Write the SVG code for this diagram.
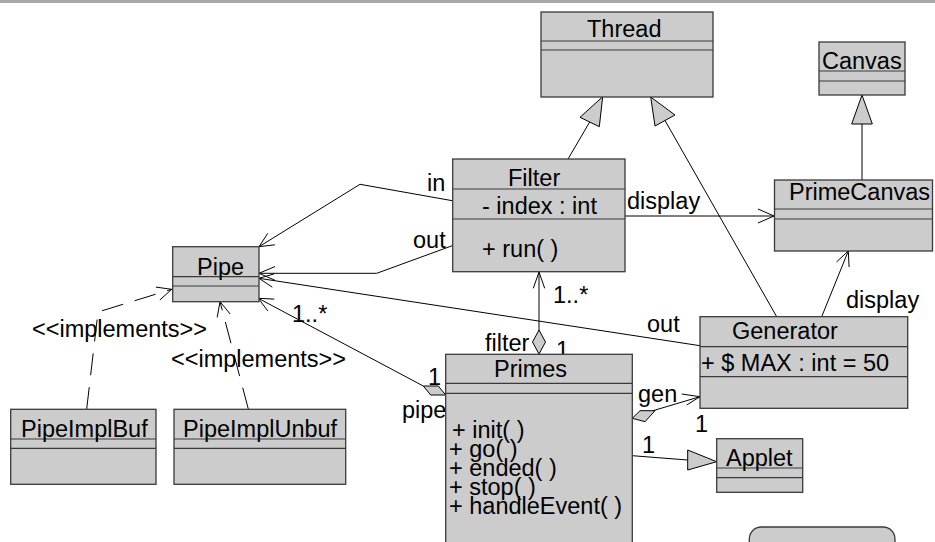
<svg xmlns="http://www.w3.org/2000/svg" width="935" height="542" viewBox="0 0 935 542">
<style>
text{font-family:"Liberation Sans",Arial,sans-serif;font-size:23.5px;fill:#000}
.box{fill:#cccccc;stroke:#3a3a3a;stroke-width:1.3}
.sep{stroke:#3a3a3a;stroke-width:1.2}
.c{fill:none;stroke:#000;stroke-width:1}
.tri{fill:#cccccc;stroke:#000;stroke-width:1}
.dash{fill:none;stroke:#000;stroke-width:1;stroke-dasharray:22,12}
</style>
<rect x="0" y="0" width="935" height="3" fill="#a8a8a8"/>
<g id="connectors">
  <!-- Filter -> Thread -->
  <line class="c" x1="568" y1="159" x2="589.7" y2="122"/>
  <polygon class="tri" points="602.7,96.7 580,117.3 599.3,126.7"/>
  <!-- Generator -> Thread -->
  <line class="c" x1="776.7" y1="316.7" x2="665" y2="120.5"/>
  <polygon class="tri" points="650.7,97 655,126 675,115"/>
  <!-- PrimeCanvas -> Canvas -->
  <line class="c" x1="862" y1="180" x2="862" y2="124"/>
  <polygon class="tri" points="862,95 851.7,124 872.3,124"/>
  <!-- Filter -> PrimeCanvas display -->
  <line class="c" x1="625" y1="216" x2="774" y2="216"/>
  <polyline class="c" points="758,209 774,216 758,223"/>
  <text x="627" y="209">display</text>
  <!-- Generator -> PrimeCanvas display -->
  <line class="c" x1="821.7" y1="316.7" x2="848.3" y2="251"/>
  <polyline class="c" points="836.6,261.9 848.3,251 849.1,267"/>
  <text x="846" y="308">display</text>
  <!-- Filter -> Pipe in -->
  <polyline class="c" points="452.3,200.7 360,184.3 259,246.7"/>
  <polyline class="c" points="274.9,244.8 259,246.7 267.8,233.3"/>
  <text x="427" y="191">in</text>
  <!-- Filter -> Pipe out -->
  <polyline class="c" points="452.3,245.7 376.7,273.3 259,273.3"/>
  <polyline class="c" points="275,266.5 259,273.3 275,280.3"/>
  <text x="413" y="248">out</text>
  <!-- Generator -> Pipe out -->
  <line class="c" x1="700" y1="345.7" x2="259" y2="278.3"/>
  <polyline class="c" points="272.3,287.2 259,278.3 274.4,273.8"/>
  <text x="647" y="332">out</text>
  <!-- Primes -> Pipe aggregation -->
  <line class="c" x1="423.3" y1="386" x2="258.3" y2="298.3"/>
  <polyline class="c" points="267.9,311.1 258.3,298.3 274.3,299.1"/>
  <polygon class="tri" points="423.3,386 438.3,386 445.7,395 430.7,395"/>
  <text x="292" y="322">1..*</text>
  <text x="428" y="385">1</text>
  <text x="402" y="418">pipe</text>
  <!-- Primes -> Filter aggregation -->
  <line class="c" x1="539" y1="272" x2="539" y2="330"/>
  <polyline class="c" points="533.3,288.3 539,272 544.7,288.3"/>
  <polygon class="tri" points="539,330 545.5,342 539,354 532.5,342"/>
  <text x="553" y="303">1..*</text>
  <text x="485" y="351">filter</text>
  <text x="556" y="358">1</text>
  <!-- Primes -> Generator aggregation -->
  <line class="c" x1="653" y1="410.7" x2="700" y2="396.7"/>
  <polyline class="c" points="681.7,394 700,396.7 686.7,405"/>
  <polygon class="tri" points="632.3,418.3 640,410.7 655,410.7 645,421.7"/>
  <text x="638" y="402">gen</text>
  <text x="695" y="432">1</text>
  <!-- Primes -> Applet -->
  <line class="c" x1="632.3" y1="455.7" x2="687.7" y2="460"/>
  <polygon class="tri" points="716.7,461.7 687.7,450 687.7,470"/>
  <text x="642" y="453">1</text>
  <!-- PipeImplBuf -> Pipe -->
  <polyline class="dash" points="86.7,409 98,312 171.7,289.3"/>
  <polyline class="c" points="155.9,287.1 171.7,289.3 159.8,300"/>
  <text x="32" y="337">&lt;&lt;implements&gt;&gt;</text>
  <!-- PipeImplUnbuf -> Pipe -->
  <line class="dash" x1="248.3" y1="409" x2="220" y2="301.7"/>
  <polyline class="c" points="217.2,317.4 220,301.7 230.2,314"/>
  <text x="171" y="367">&lt;&lt;implements&gt;&gt;</text>
</g>
<g id="Thread">
  <rect class="box" x="541" y="12" width="172" height="85"/>
  <line class="sep" x1="541" y1="41" x2="713" y2="41"/>
  <line class="sep" x1="541" y1="50" x2="713" y2="50"/>
  <text x="587" y="37">Thread</text>
</g>
<g id="Canvas">
  <rect class="box" x="819" y="42" width="86" height="53"/>
  <line class="sep" x1="819" y1="71" x2="905" y2="71"/>
  <line class="sep" x1="819" y1="81" x2="905" y2="81"/>
  <text x="822" y="69">Canvas</text>
</g>
<g id="PrimeCanvas">
  <rect class="box" x="774.5" y="180" width="158" height="71"/>
  <line class="sep" x1="774.5" y1="209" x2="932.5" y2="209"/>
  <line class="sep" x1="774.5" y1="219" x2="932.5" y2="219"/>
  <text x="789" y="200">PrimeCanvas</text>
</g>
<g id="Filter">
  <rect class="box" x="452.7" y="159" width="172.3" height="112.7"/>
  <line class="sep" x1="452.7" y1="189" x2="625" y2="189"/>
  <line class="sep" x1="452.7" y1="219" x2="625" y2="219"/>
  <text x="508" y="186">Filter</text>
  <text x="482" y="214">- index : int</text>
  <text x="482" y="257">+ run( )</text>
</g>
<g id="Pipe">
  <rect class="box" x="172.7" y="246.7" width="86.3" height="55"/>
  <line class="sep" x1="172.7" y1="276.7" x2="259" y2="276.7"/>
  <line class="sep" x1="172.7" y1="286" x2="259" y2="286"/>
  <text x="197" y="275">Pipe</text>
</g>
<g id="Generator">
  <rect class="box" x="700" y="316.7" width="207.7" height="91.6"/>
  <line class="sep" x1="700" y1="346.7" x2="907.7" y2="346.7"/>
  <line class="sep" x1="700" y1="376.7" x2="907.7" y2="376.7"/>
  <text x="732" y="339">Generator</text>
  <text x="701" y="371">+ $ MAX : int = 50</text>
</g>
<g id="Primes">
  <rect class="box" x="445.7" y="354.3" width="186.6" height="200"/>
  <line class="sep" x1="445.7" y1="383.3" x2="632.3" y2="383.3"/>
  <line class="sep" x1="445.7" y1="393.3" x2="632.3" y2="393.3"/>
  <text x="494" y="377">Primes</text>
  <text x="452" y="438">+ init( )</text>
  <text x="449" y="457">+ go( )</text>
  <text x="449" y="476">+ ended( )</text>
  <text x="449" y="495">+ stop( )</text>
  <text x="449" y="514">+ handleEvent( )</text>
</g>
<g id="Applet">
  <rect class="box" x="716.7" y="438.7" width="86" height="53.6"/>
  <line class="sep" x1="716.7" y1="468" x2="802.7" y2="468"/>
  <line class="sep" x1="716.7" y1="477.7" x2="802.7" y2="477.7"/>
  <text x="726" y="466">Applet</text>
</g>
<g id="PipeImplBuf">
  <rect class="box" x="10.7" y="409.3" width="145.3" height="75"/>
  <line class="sep" x1="10.7" y1="439" x2="156" y2="439"/>
  <line class="sep" x1="10.7" y1="448.3" x2="156" y2="448.3"/>
  <text x="21" y="437">PipeImplBuf</text>
</g>
<g id="PipeImplUnbuf">
  <rect class="box" x="174" y="409.3" width="171.7" height="75"/>
  <line class="sep" x1="174" y1="439" x2="345.7" y2="439"/>
  <line class="sep" x1="174" y1="448.3" x2="345.7" y2="448.3"/>
  <text x="183" y="437">PipeImplUnbuf</text>
</g>
<g id="note">
  <rect class="box" x="749.3" y="527" width="145.7" height="40" rx="12" ry="12"/>
</g>
</svg>
